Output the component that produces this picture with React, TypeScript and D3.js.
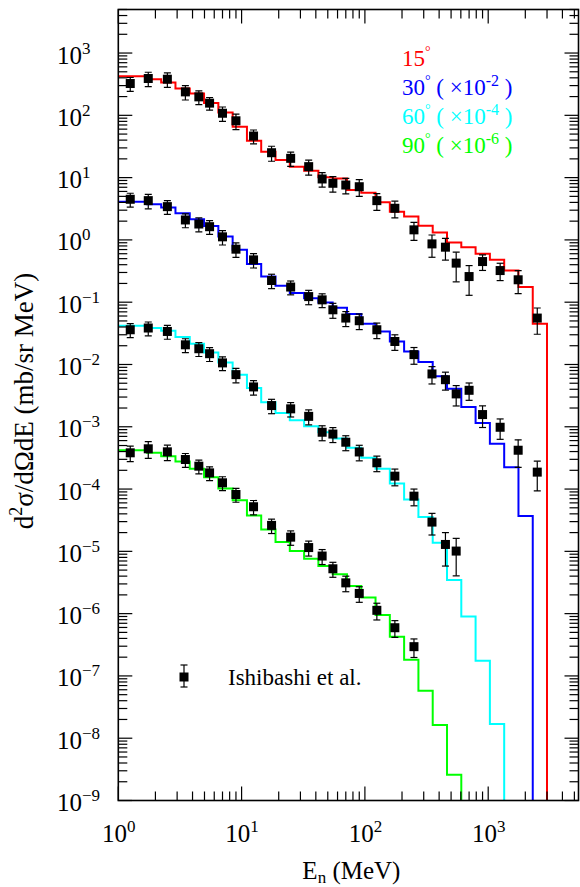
import React from 'react';
import * as d3 from 'd3';

// Histogram bin edges (MeV)
const binEdges = [1, 1.306, 1.705, 2.227, 2.908, 3.798, 4.960, 6.478, 8.459, 11.05, 14.42, 18.84, 24.60, 32.13, 41.95, 54.78, 71.55, 93.43, 122.0, 159.3, 208.0, 271.7, 354.8, 463.4, 605.1, 790.2, 1032, 1348, 1760, 2298, 3000];

// Calculated spectra (unscaled, mb/sr MeV); null = no yield
const model15 = [425, 425, 380, 337, 270, 224, 158, 111, 65.5, 39, 26, 19.1, 15.0, 12.9, 10.1, 9.66, 6.32, 5.73, 4.02, 2.84, 2.37, 1.69, 1.31, 0.906, 0.764, 0.597, 0.478, 0.323, 0.175, 0.0451];
const model30 = [411, 411, 373, 330, 267, 214, 167, 113, 69.2, 41.2, 25.8, 18.3, 14.0, 11.6, 9.91, 8.13, 6.46, 4.51, 3.40, 2.34, 1.62, 1.10, 0.646, 0.406, 0.208, 0.115, 0.0532, 0.0224, 0.00368, null];
const model60 = [419, 419, 385, 348, 275, 215, 156, 108, 68.7, 42.0, 24.7, 16.7, 12.7, 10.2, 8.17, 6.5, 4.59, 3.17, 2.11, 1.23, 0.681, 0.355, 0.138, 0.0347, 0.00897, 0.00175, 0.000169, null, null, null];
const model90 = [420, 420, 381, 337, 277, 211, 155, 102, 66.4, 37.8, 22.5, 14.1, 10.1, 7.64, 5.81, 4.28, 2.78, 1.81, 0.955, 0.424, 0.181, 0.0577, 0.0163, 0.0026, null, null, null, null, null, null];

// Measured data (Ishibashi et al.)
const expEnergy = [1.25, 1.75, 2.5, 3.5, 4.5, 5.5, 7, 9, 12.5, 17.5, 25, 35, 45, 55, 70, 90, 125, 175, 250, 350, 450, 550, 700, 900, 1250, 1750, 2500];
const exp15 = [324, 390, 380, 238, 198, 157, 108, 81.7, 46.5, 25.1, 20.4, 15.0, 9.51, 8.11, 7.60, 7.14, 4.27, 3.22, 1.45, 0.863, 0.764, 0.424, 0.258, 0.449, 0.322, 0.229, 0.0556];
const exp30 = [449, 427, 342, 209, 180, 163, 112, 71.0, 47.8, 22.3, 17.5, 12.3, 10.9, 7.55, 5.56, 5.04, 3.61, 2.34, 1.44, 0.705, 0.570, 0.337, 0.385, 0.157, 0.0982, 0.0420, 0.0187];
const exp60 = [361, 385, 339, 207, 179, 149, 106, 68.7, 43.6, 21.9, 19.4, 14.7, 8.17, 7.64, 5.65, 3.94, 2.64, 1.61, 0.769, 0.295, 0.129, 0.101];
const exp90 = [382, 443, 396, 298, 233, 182, 126, 81.8, 52.0, 26.1, 16.9, 11.5, 8.41, 5.25, 3.12, 2.11, 1.13, 0.594, 0.295];
// relative errors
const err15 = [0.25, 0.26, 0.26, 0.26, 0.25, 0.23, 0.26, 0.28, 0.25, 0.27, 0.26, 0.27, 0.26, 0.28, 0.28, 0.3, 0.3, 0.3, 0.32, 0.39, 0.38, 0.5, 0.5, 0.28, 0.31, 0.4, 0.45];
const err30 = [0.25, 0.26, 0.25, 0.25, 0.25, 0.25, 0.26, 0.26, 0.26, 0.26, 0.25, 0.26, 0.25, 0.27, 0.27, 0.28, 0.28, 0.28, 0.3, 0.31, 0.32, 0.36, 0.31, 0.38, 0.36, 0.47, 0.5];
const err60 = [0.25, 0.25, 0.25, 0.25, 0.25, 0.25, 0.25, 0.26, 0.26, 0.26, 0.26, 0.27, 0.27, 0.27, 0.27, 0.28, 0.28, 0.3, 0.3, 0.38, 0.55, 0.6];
const err90 = [0.28, 0.3, 0.28, 0.25, 0.25, 0.25, 0.25, 0.25, 0.26, 0.26, 0.26, 0.27, 0.27, 0.27, 0.28, 0.28, 0.3, 0.3, 0.33];

const angleLabels = ['15', '30', '60', '90'];
const scaleExponents = [0, -2, -4, -6];
const seriesColors = ['#ff0000', '#0000ff', '#00ffff', '#00ff00'];

const yTickExps = [-9, -8, -7, -6, -5, -4, -3, -2, -1, 0, 1, 2, 3];
const xTickExps = [0, 1, 2, 3];

const FONT = '"Liberation Serif", "Times New Roman", serif';

export default function App() {
  const W = 580, H = 887;
  const left = 118.3, right = 578.5, top = 9.5, bottom = 800.5;
  const x = d3.scaleLog().domain([1, 5400]).range([left, right]);
  const y = d3.scaleLog().domain([1e-9, 5000]).range([bottom, top]);

  const models = [model15, model30, model60, model90];
  const exps = [exp15, exp30, exp60, exp90];
  const errs = [err15, err30, err60, err90];

  const line = d3.line<[number, number]>()
    .x(d => x(d[0]))
    .y(d => y(d[1]))
    .curve(d3.curveStepAfter);

  const stepPath = (vals: (number | null)[], s: number) => {
    const pts: [number, number][] = [];
    let last = 0;
    for (let i = 0; i < vals.length; i++) {
      const v = vals[i];
      if (v == null) { break; }
      pts.push([binEdges[i], v * s]);
      last = i;
    }
    pts.push([binEdges[last + 1], vals[last]! * s]);
    pts.push([binEdges[last + 1], 1e-9]);
    return line(pts) || '';
  };

  // ticks
  const yMinor: number[] = [];
  for (let e = -9; e <= 3; e++) for (let m = 2; m <= 9; m++) { const v = m * Math.pow(10, e); if (v <= 5000) yMinor.push(v); }
  const xMinor: number[] = [];
  for (let e = 0; e <= 3; e++) for (let m = 2; m <= 9; m++) { const v = m * Math.pow(10, e); if (v <= 5400) xMinor.push(v); }
  const MAJ = 14, MIN = 9;

  const tickEls: JSX.Element[] = [];
  yTickExps.forEach(e => {
    const yy = y(Math.pow(10, e));
    tickEls.push(<line key={'yl' + e} x1={left} x2={left + MAJ} y1={yy} y2={yy} />);
    tickEls.push(<line key={'yr' + e} x1={right} x2={right - MAJ} y1={yy} y2={yy} />);
  });
  yMinor.forEach((v, i) => {
    const yy = y(v);
    tickEls.push(<line key={'yml' + i} x1={left} x2={left + MIN} y1={yy} y2={yy} />);
    tickEls.push(<line key={'ymr' + i} x1={right} x2={right - MIN} y1={yy} y2={yy} />);
  });
  xTickExps.forEach(e => {
    const xx = x(Math.pow(10, e));
    tickEls.push(<line key={'xb' + e} x1={xx} x2={xx} y1={bottom} y2={bottom - MAJ} />);
    tickEls.push(<line key={'xt' + e} x1={xx} x2={xx} y1={top} y2={top + MAJ} />);
  });
  xMinor.forEach((v, i) => {
    const xx = x(v);
    tickEls.push(<line key={'xmb' + i} x1={xx} x2={xx} y1={bottom} y2={bottom - MIN} />);
    tickEls.push(<line key={'xmt' + i} x1={xx} x2={xx} y1={top} y2={top + MIN} />);
  });

  const sq = 9;
  const cap = 3.5;

  return (
    <svg width={W} height={H} style={{ position: 'absolute', left: 0, top: 0, background: '#fff' }} fontFamily={FONT}>
      <defs>
        <clipPath id="plotClip">
          <rect x={left} y={top} width={right - left} height={bottom - top} />
        </clipPath>
      </defs>
      <rect x={0} y={0} width={W} height={H} fill="#fff" />

      <g clipPath="url(#plotClip)">
        {models.map((m, si) => (
          <path key={'m' + si} d={stepPath(m, Math.pow(10, scaleExponents[si]))} fill="none" stroke={seriesColors[si]} strokeWidth={2} />
        ))}
        {exps.map((arr, si) => {
          const s = Math.pow(10, scaleExponents[si]);
          return (
            <g key={'e' + si}>
              {arr.map((v, i) => {
                const xx = x(expEnergy[i]);
                const f = errs[si][i];
                const yHi = y(v * (1 + f) * s), yLo = y(v * (1 - f) * s), yc = y(v * s);
                return (
                  <g key={i}>
                    <line x1={xx} x2={xx} y1={yHi} y2={yLo} stroke="#000" strokeWidth={1.2} />
                    <line x1={xx - cap} x2={xx + cap} y1={yHi} y2={yHi} stroke="#000" strokeWidth={1.2} />
                    <line x1={xx - cap} x2={xx + cap} y1={yLo} y2={yLo} stroke="#000" strokeWidth={1.2} />
                    <rect x={xx - sq / 2} y={yc - sq / 2} width={sq} height={sq} fill="#000" />
                  </g>
                );
              })}
            </g>
          );
        })}
      </g>

      <g stroke="#000" strokeWidth={1.2}>{tickEls}</g>
      <rect x={left} y={top} width={right - left} height={bottom - top} fill="none" stroke="#000" strokeWidth={1.6} />

      {/* Y tick labels */}
      <g fontSize={25} fill="#000">
        {yTickExps.map(e => (
          <text key={'ytl' + e} x={57} y={y(Math.pow(10, e)) + 10.5}>
            10<tspan fontSize={17} dy={-10}>{e < 0 ? '\u2212' + Math.abs(e) : String(e)}</tspan>
          </text>
        ))}
      </g>
      {/* X tick labels */}
      <g fontSize={25} fill="#000">
        {xTickExps.map(e => (
          <text key={'xtl' + e} x={x(Math.pow(10, e)) + 0.5} y={842} textAnchor="middle">
            10<tspan fontSize={17} dy={-10}>{String(e)}</tspan>
          </text>
        ))}
      </g>

      {/* Axis titles */}
      <text x={(left + right) / 2 + 3} y={879} textAnchor="middle" fontSize={25} fill="#000">
        E<tspan fontSize={17} dy={4}>n</tspan><tspan dy={-4}> (MeV)</tspan>
      </text>
      <text transform={`translate(33, ${(top + bottom) / 2 - 4}) rotate(-90)`} textAnchor="middle" fontSize={27} fill="#000">
        d<tspan fontSize={18} dy={-11}>2</tspan><tspan dy={11}>σ/dΩdE (mb/sr MeV)</tspan>
      </text>

      {/* Angle legend */}
      <g fontSize={23}>
        {angleLabels.map((a, i) => (
          <text key={'al' + i} x={402} y={66 + i * 29} fill={seriesColors[i]}>
            {a}<tspan fontSize={14} dy={-10}>°</tspan>
            {scaleExponents[i] !== 0 ? (
              <>
                <tspan dy={10}> ( ×10</tspan>
                <tspan fontSize={16} dy={-9}>{String(scaleExponents[i])}</tspan>
                <tspan dy={9}> )</tspan>
              </>
            ) : null}
          </text>
        ))}
      </g>

      {/* Data legend */}
      <g>
        <line x1={184} x2={184} y1={665} y2={687} stroke="#000" strokeWidth={1.2} />
        <line x1={184 - cap} x2={184 + cap} y1={665} y2={665} stroke="#000" strokeWidth={1.2} />
        <line x1={184 - cap} x2={184 + cap} y1={687} y2={687} stroke="#000" strokeWidth={1.2} />
        <rect x={184 - sq / 2} y={677 - sq / 2} width={sq} height={sq} fill="#000" />
        <text x={228} y={685} fontSize={23} fill="#000">Ishibashi et al.</text>
      </g>
    </svg>
  );
}
